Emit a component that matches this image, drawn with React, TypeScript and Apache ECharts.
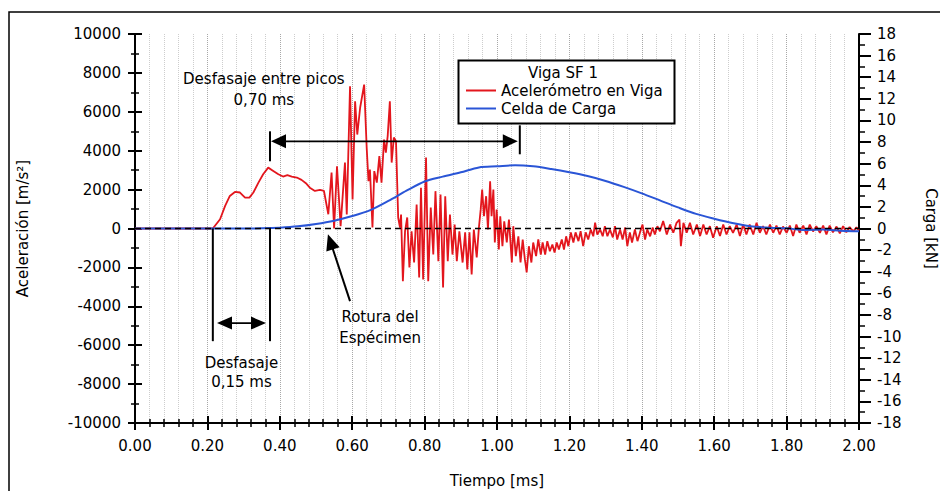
import React, { useEffect, useRef } from "react";
import * as echarts from "echarts";

const FONT = '"DejaVu Sans", "Liberation Sans", Arial, sans-serif';

// ---------- DATA ----------
const xAxisMin = 0;
const xAxisMax = 2;
const xAxisStep = 0.2;
const accelMin = -10000;
const accelMax = 10000;
const accelStep = 2000;
const loadMin = -18;
const loadMax = 18;
const loadStep = 2;

const seriesNames = ["Acelerómetro en Viga", "Celda de Carga"];
const legendTitle = "Viga SF 1";

// Accelerometer (m/s²) – time in ms
const accelTime = [
  0, 0.1, 0.215, 0.235, 0.249, 0.262, 0.276, 0.29, 0.304, 0.316, 0.327, 0.341, 0.354, 0.368, 0.382, 0.396,
  0.409, 0.421, 0.433, 0.447, 0.46, 0.472, 0.483, 0.497, 0.511, 0.522, 0.534,
  0.543, 0.55, 0.558, 0.568, 0.58, 0.585, 0.594, 0.601, 0.608, 0.614, 0.622, 0.633, 0.64, 0.645, 0.649,
  0.656, 0.661, 0.668, 0.675, 0.681, 0.688, 0.693, 0.698, 0.704, 0.709, 0.715, 0.721, 0.727, 0.732, 0.735,
  0.74, 0.746, 0.752, 0.758, 0.764, 0.771, 0.778, 0.785, 0.79, 0.796, 0.804, 0.81, 0.817, 0.824, 0.83,
  0.838, 0.844, 0.851, 0.857, 0.864, 0.87, 0.877, 0.883, 0.889, 0.896,
  0.905, 0.912, 0.918, 0.924, 0.93, 0.936, 0.944, 0.95, 0.955, 0.959, 0.964, 0.97, 0.975, 0.981, 0.985,
  0.99, 0.994, 0.999, 1.005, 1.009, 1.015, 1.02, 1.027, 1.033, 1.041, 1.045, 1.052, 1.059, 1.065, 1.071,
  1.077, 1.082, 1.088, 1.095, 1.1, 1.108, 1.114, 1.121, 1.126, 1.133, 1.139, 1.146, 1.153, 1.159, 1.165,
  1.171, 1.179, 1.185, 1.191, 1.197, 1.204, 1.211, 1.217, 1.225, 1.231, 1.238, 1.245, 1.252, 1.259, 1.266,
  1.271, 1.277, 1.285, 1.292, 1.298, 1.305, 1.312, 1.32, 1.326, 1.332, 1.34, 1.347, 1.354, 1.36, 1.367,
  1.373, 1.381, 1.388, 1.395, 1.402, 1.409, 1.415, 1.423, 1.43, 1.436, 1.443, 1.45,
  1.459, 1.469, 1.478, 1.487, 1.496, 1.504, 1.508, 1.515, 1.524, 1.533, 1.542, 1.552, 1.561, 1.57, 1.579,
  1.588, 1.597, 1.607, 1.616, 1.625, 1.634, 1.643, 1.652, 1.662, 1.671, 1.68, 1.689, 1.698, 1.708, 1.717,
  1.726, 1.735, 1.744, 1.754, 1.763, 1.772, 1.781, 1.79, 1.8, 1.809, 1.818, 1.827, 1.836, 1.846, 1.855,
  1.864, 1.873, 1.882, 1.892, 1.901, 1.91, 1.919, 1.928, 1.938, 1.947, 1.956, 1.965, 1.974, 1.984, 1.993, 2.0,
];
const accelValue = [
  0, 0, 0, 474, 1160, 1675, 1880, 1850, 1590, 1590, 1850, 2360, 2790, 3130, 2960, 2790,
  2670, 2740, 2670, 2620, 2500, 2330, 2100, 1930, 1980, 1930, 730,
  2880, 0, 3200, 120, 3390, 720, 7310, 1490, 6540, 4830, 6220, 7400, 4160, 2430, 3030,
  50, 2950, 2360, 3720, 2360, 4570, 3900, 4750, 6540, 3390, 4680, 4490, 565, 50, 720,
  -2710, -140, 565, -2000, -140, -1750, 1230, -2520, 2100, -2620, 3650, -2710, 1080, -1340, 1920,
  -1680, 1750, -3030, 1660, -1680, 720, -1340, 200, -1680, -140,
  -1750, -200, -2100, -200, -2360, -50, -1490, 50, 980, 2000, 630, 1660, -50, 2430, 630,
  2000, -720, 980, -1080, 630, -910, 370, -720, 460, -1750, 120, -1420, -400, -1750, -565,
  -1590, -2260, -910, -1750, -720, -1420, -565, -1340, -720, -1340, -650, -1170, -820, -1240, -720,
  -1080, -565, -1080, -400, -910, -200, -720, -200, -650, -140, -910, -200, -565, -50, -400,
  300, -310, -50, -400, 120, -400, -50, -460, 120, -565, -50, -565, 50, -910, -200,
  -720, -50, -650, -200, 200, -565, -50, -400, 50, -310, 120, -140,
  380, -310, 200, -220, 290, 460, -910, 290, -220, 290, -310, 200, -390, 200, -310,
  120, -480, 120, -390, 200, -310, 120, -220, 200, -390, 200, -310, 200, -310, 290,
  -220, 120, -310, 200, -220, 150, -310, 100, -220, 150, -390, 200, -220, 150, -310,
  200, -150, 120, -220, 150, -300, 150, -200, 100, -250, 120, -200, 80, -150, 60, -100,
];

// Load cell (kN) – time in ms
const loadTime = [
  0, 0.2, 0.3, 0.35, 0.4, 0.45, 0.5, 0.55, 0.6, 0.65, 0.7, 0.75, 0.8, 0.85, 0.9, 0.95, 1.0, 1.05, 1.1,
  1.15, 1.2, 1.25, 1.3, 1.35, 1.4, 1.45, 1.5, 1.55, 1.6, 1.65, 1.7, 1.75, 1.8, 1.85, 1.9, 1.95, 2.0,
];
const loadValue = [
  0, 0, 0, 0.02, 0.08, 0.2, 0.42, 0.72, 1.15, 1.7, 2.55, 3.5, 4.35, 4.8, 5.2, 5.65, 5.75, 5.85, 5.75,
  5.5, 5.2, 4.85, 4.4, 3.85, 3.25, 2.6, 1.95, 1.35, 0.9, 0.5, 0.2, 0.08, 0.02, -0.15, -0.1, -0.2, -0.25,
];

// Annotation anchors in data coordinates (time ms, acceleration m/s²)
const peakShiftText = { t: 0.356, lines: ["Desfasaje entre picos", "0,70 ms"], v: [7668, 6590] };
const peakShiftArrow = { t1: 0.373, t2: 1.063, v: 4484, bar1: [3456, 4997], bar2: [3816, 5305] };
const onsetLines = { t1: 0.215, t2: 0.373, vTop: 0, vBottom: -5793 };
const onsetArrow = { t1: 0.2265, t2: 0.3619, v: -4863 };
const onsetText = { t: 0.294, lines: ["Desfasaje", "0,15 ms"], v: [-6917, -7893] };
const ruptureText = { t: 0.677, lines: ["Rotura del", "Espécimen"], v: [-4556, -5634] };
const ruptureArrow = { tipT: 0.533, tipV: -293, tailT: 0.594, tailV: -3734 };

// ---------- STYLE ----------
const RED = "#e3161d";
const BLUE = "#2a55d6";

function headPoints(tip: number[], from: number[], len = 15, half = 7) {
  const dx = tip[0] - from[0];
  const dy = tip[1] - from[1];
  const d = Math.sqrt(dx * dx + dy * dy) || 1;
  const ux = dx / d, uy = dy / d;
  const bx = tip[0] - ux * len, by = tip[1] - uy * len;
  return [
    [tip[0], tip[1]],
    [bx - uy * half, by + ux * half],
    [bx + uy * half, by - ux * half],
  ];
}

export default function App() {
  const ref = useRef<HTMLDivElement>(null);

  useEffect(() => {
    if (!ref.current) return;
    document.body.style.margin = "0";
    document.body.style.overflow = "hidden";
    document.documentElement.style.overflow = "hidden";
    const chart = echarts.init(ref.current, null, { renderer: "svg", width: 940, height: 491 });
    const txt = { color: "#000", fontSize: 15, fontFamily: FONT };

    const xBase = {
      type: "value",
      min: xAxisMin,
      max: xAxisMax,
      interval: xAxisStep,
      position: "bottom",
    };
    const yBase = {
      type: "value",
      min: accelMin,
      max: accelMax,
      interval: accelStep,
      position: "left",
    };

    const option: any = {
      animation: false,
      textStyle: { fontFamily: FONT },
      grid: {
        left: 135,
        right: 81,
        top: 34,
        bottom: 68,
        containLabel: false,
        outerBoundsMode: "none",
      },
      legend: {
        data: seriesNames,
        orient: "vertical",
        left: 466,
        top: 83,
        icon: "rect",
        itemWidth: 30,
        itemHeight: 2,
        itemGap: 3,
        padding: 0,
        z: 10,
        textStyle: { ...txt, lineHeight: 15 },
      },
      xAxis: [
        {
          ...xBase,
          axisLine: { onZero: false, lineStyle: { color: "#000", width: 2 } },
          axisTick: { show: true, length: 7, lineStyle: { color: "#000", width: 2 } },
          minorTick: { show: true, splitNumber: 5, length: 4, lineStyle: { color: "#000", width: 1.5 } },
          splitLine: { show: true, lineStyle: { color: "#a8a8a8", type: "dotted", width: 1 } },
          minorSplitLine: { show: true, lineStyle: { color: "#cdcdcd", type: "dotted", width: 1 } },
          axisLabel: { ...txt, margin: 15, formatter: (v: number) => v.toFixed(2) },
          name: "Tiempo [ms]",
          nameLocation: "middle",
          nameGap: 50,
          nameTextStyle: txt,
        },
        {
          ...xBase,
          axisLine: { onZero: false, show: false },
          axisTick: { show: true, inside: true, length: 7, lineStyle: { color: "#000", width: 2 } },
          minorTick: { show: true, splitNumber: 5, length: 4, lineStyle: { color: "#000", width: 1.5 } },
          splitLine: { show: false },
          axisLabel: { show: false },
        },
      ],
      yAxis: [
        {
          ...yBase,
          axisLine: { show: true, onZero: false, lineStyle: { color: "#000", width: 2 } },
          axisTick: { show: true, length: 7, lineStyle: { color: "#000", width: 2 } },
          minorTick: { show: true, splitNumber: 2, length: 4, lineStyle: { color: "#000", width: 1.5 } },
          splitLine: { show: false },
          axisLabel: { ...txt, margin: 14, formatter: (v: number) => String(v) },
          name: "Aceleración [m/s²]",
          nameLocation: "middle",
          nameGap: 105,
          nameRotate: 90,
          nameTextStyle: txt,
        },
        {
          type: "value",
          min: loadMin,
          max: loadMax,
          interval: loadStep,
          position: "right",
          axisLine: { show: true, onZero: false, lineStyle: { color: "#000", width: 2 } },
          axisTick: { show: true, length: 12, lineStyle: { color: "#000", width: 2 } },
          minorTick: { show: true, splitNumber: 2, length: 6, lineStyle: { color: "#000", width: 1.5 } },
          splitLine: { show: false },
          axisLabel: { ...txt, margin: 18, formatter: (v: number) => String(v) },
          name: "Carga [kN]",
          nameLocation: "middle",
          nameGap: 64,
          nameRotate: -90,
          nameTextStyle: txt,
        },
        {
          ...yBase,
          axisLine: { show: false, onZero: false },
          axisTick: { show: true, inside: true, length: 7, lineStyle: { color: "#000", width: 2 } },
          minorTick: { show: true, splitNumber: 2, length: 4, lineStyle: { color: "#000", width: 1.5 } },
          splitLine: { show: false },
          axisLabel: { show: false },
        },
      ],
      series: [
        {
          name: seriesNames[0],
          type: "line",
          xAxisIndex: 0,
          yAxisIndex: 0,
          data: accelTime.map((t, i) => [t, accelValue[i]]),
          showSymbol: false,
          symbol: "none",
          lineStyle: { color: RED, width: 1.8 },
          itemStyle: { color: RED },
          z: 3,
          markLine: {
            silent: true,
            symbol: "none",
            label: { show: false },
            lineStyle: { type: [6, 4], color: "#000", width: 1.3 },
            data: [{ yAxis: 0 }],
          },
        },
        {
          name: seriesNames[1],
          type: "line",
          xAxisIndex: 0,
          yAxisIndex: 1,
          data: loadTime.map((t, i) => [t, loadValue[i]]),
          showSymbol: false,
          symbol: "none",
          smooth: 0.3,
          lineStyle: { color: BLUE, width: 2 },
          itemStyle: { color: BLUE },
          z: 4,
        },
      ],
    };

    chart.setOption(option);

    const P = (t: number, v: number) =>
      chart.convertToPixel({ xAxisIndex: 0, yAxisIndex: 0 }, [t, v]) as number[];
    const font = `15px ${FONT}`;
    const g: any[] = [];
    const line = (a: number[], b: number[], w = 2) =>
      g.push({
        type: "line",
        silent: true,
        z: 20,
        shape: { x1: a[0], y1: a[1], x2: b[0], y2: b[1] },
        style: { stroke: "#000", lineWidth: w },
      });
    const head = (tip: number[], from: number[], len = 15, half = 7) =>
      g.push({
        type: "polygon",
        silent: true,
        z: 20,
        shape: { points: headPoints(tip, from, len, half) },
        style: { fill: "#000" },
      });
    const text = (p: number[], s: string) =>
      g.push({
        type: "text",
        silent: true,
        z: 20,
        x: p[0],
        y: p[1],
        style: { text: s, font, fill: "#000", align: "center", verticalAlign: "middle" },
      });

    // outer frame (top and left edges visible in the page)
    g.push({
      type: "polyline",
      silent: true,
      z: 30,
      shape: { points: [[9, 491], [9, 12], [940, 12]] },
      style: { fill: "none", stroke: "#000", lineWidth: 1.5 },
    });
    // legend box and title
    g.push({
      type: "rect",
      silent: true,
      z: 5,
      shape: { x: 458.5, y: 60.5, width: 216, height: 63 },
      style: { fill: "#fff", stroke: "#000", lineWidth: 2 },
    });
    g.push({
      type: "text",
      silent: true,
      z: 6,
      x: 563,
      y: 73,
      style: { text: legendTitle, font, fill: "#000", align: "center", verticalAlign: "middle" },
    });

    // peak shift annotation
    peakShiftText.lines.forEach((s, i) => text(P(peakShiftText.t, peakShiftText.v[i]), s));
    const a1 = P(peakShiftArrow.t1, peakShiftArrow.v);
    const a2 = P(peakShiftArrow.t2, peakShiftArrow.v);
    line(P(peakShiftArrow.t1, peakShiftArrow.bar1[0]), P(peakShiftArrow.t1, peakShiftArrow.bar1[1]));
    line(P(peakShiftArrow.t2, peakShiftArrow.bar2[0]), P(peakShiftArrow.t2, peakShiftArrow.bar2[1]));
    line([a1[0] + 8, a1[1]], [a2[0] - 8, a2[1]], 1.8);
    head([a1[0] + 1, a1[1]], a2);
    head([a2[0] - 2, a2[1]], a1);

    // onset lines and arrow
    line(P(onsetLines.t1, onsetLines.vTop), P(onsetLines.t1, onsetLines.vBottom));
    line(P(onsetLines.t2, onsetLines.vTop), P(onsetLines.t2, onsetLines.vBottom));
    const b1 = P(onsetArrow.t1, onsetArrow.v);
    const b2 = P(onsetArrow.t2, onsetArrow.v);
    line([b1[0] + 8, b1[1]], [b2[0] - 8, b2[1]], 1.8);
    head(b1, b2, 15, 6.5);
    head(b2, b1, 15, 6.5);
    onsetText.lines.forEach((s, i) => text(P(onsetText.t, onsetText.v[i]), s));

    // rupture annotation
    const tip = P(ruptureArrow.tipT, ruptureArrow.tipV);
    const tail = P(ruptureArrow.tailT, ruptureArrow.tailV);
    const dx = tip[0] - tail[0], dy = tip[1] - tail[1];
    const dl = Math.sqrt(dx * dx + dy * dy);
    line(tail, [tip[0] - (dx / dl) * 10, tip[1] - (dy / dl) * 10], 2);
    head(tip, tail, 16, 7);
    ruptureText.lines.forEach((s, i) => text(P(ruptureText.t, ruptureText.v[i]), s));

    chart.setOption({ graphic: g });

    return () => chart.dispose();
  }, []);

  return (
    <div
      ref={ref}
      style={{
        position: "absolute",
        left: 0,
        top: 0,
        width: 940,
        height: 491,
        overflow: "hidden",
        background: "#fff",
      }}
    />
  );
}
